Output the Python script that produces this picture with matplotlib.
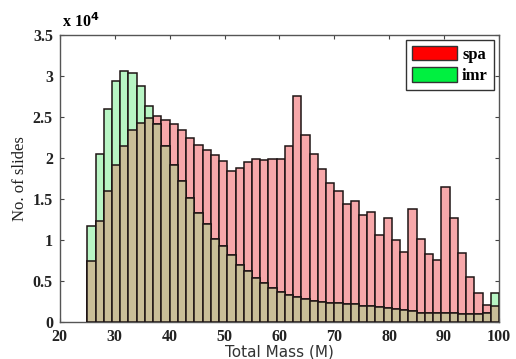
import numpy as np
import matplotlib
matplotlib.use('Agg')
import matplotlib.pyplot as plt
from matplotlib.patches import Patch

# histogram data: 50 bins from 25 to 100
bin_lo, bin_hi, n_bins = 25, 100, 50
spa = [7430, 12260, 15960, 19080, 21480, 23350, 24240, 24810, 25050, 24600,
       24080, 23350, 22370, 21560, 20950, 20340, 19570, 18430, 18720, 19450,
       19810, 19770, 19810, 19890, 21480, 27530, 22820, 20460, 18680, 16970,
       15960, 14410, 14740, 13070, 13360, 10600, 12630, 10030, 8570, 13720,
       10150, 8320, 7510, 16440, 12710, 8440, 5520, 3490, 2030, 1950]
imr = [11690, 20420, 25980, 29320, 30610, 30330, 28740, 26270, 24080, 21400,
       19080, 17130, 15100, 13240, 11940, 10150, 9260, 8160, 6940, 6210,
       5400, 4750, 4140, 3610, 3250, 3045, 2760, 2520, 2400, 2360,
       2360, 2230, 2230, 1990, 1910, 1790, 1750, 1540, 1500, 1340,
       1140, 1140, 1060, 1060, 1060, 980, 980, 980, 1060, 3490]
xticks = [20, 30, 40, 50, 60, 70, 80, 90, 100]
yticks = [0, 5000, 10000, 15000, 20000, 25000, 30000, 35000]
ytick_labels = ['0', '0.5', '1', '1.5', '2', '2.5', '3', '3.5']

PINK = '#F7A8AA'
LGREEN = '#B8F5C4'
TAN = '#C9BE98'
EDGE = '#1e1414'

edges = np.linspace(bin_lo, bin_hi, n_bins + 1)
left = edges[:-1]
width = edges[1] - edges[0]
spa = np.array(spa)
imr = np.array(imr)
both = np.minimum(spa, imr)

fig = plt.figure(figsize=(5.16, 3.59), dpi=100)
ax = fig.add_axes([0.116, 0.103, 0.851, 0.800])

# full-height outlines of each series, then the shared part on top
ax.bar(left, spa, width=width, align='edge', color=PINK, edgecolor=EDGE,
       linewidth=1.1, zorder=2)
ax.bar(left, imr, width=width, align='edge', color=LGREEN, edgecolor=EDGE,
       linewidth=1.1, zorder=3)
ax.bar(left, both, width=width, align='edge', color=TAN, edgecolor=EDGE,
       linewidth=1.1, zorder=4)

ax.set_xlim(20, 100)
ax.set_ylim(0, 35000)
ax.set_xticks(xticks)
ax.set_yticks(yticks)
ax.set_yticklabels(ytick_labels)
ax.tick_params(direction='in', top=True, right=True, length=3, width=0.8,
               colors='#444444', labelcolor='#222222')
ax.tick_params(axis='x', pad=5)
ax.tick_params(axis='y', pad=5)
for lab in ax.get_xticklabels() + ax.get_yticklabels():
    lab.set_fontfamily('Liberation Serif')
    lab.set_fontweight('bold')
    lab.set_fontsize(11.5)
for sp in ax.spines.values():
    sp.set_color('#555555')
    sp.set_linewidth(1.0)

ax.set_xlabel('Total Mass (M)', fontsize=11, family='DejaVu Sans',
              color='#333333', labelpad=0)
ax.set_ylabel('No. of slides', fontsize=12, family='Liberation Serif',
              color='#222222', labelpad=3)

fig.text(62 / 516, 1 - 22 / 359, r'x 10$^{\mathbf{4}}$', fontsize=11.5,
         family='Liberation Serif', fontweight='bold', va='center', ha='left')

handles = [Patch(facecolor='#FF0000', edgecolor='#333333', label='spa'),
           Patch(facecolor='#00F040', edgecolor='#333333', label='imr')]
leg = ax.legend(handles=handles, loc='upper right', bbox_to_anchor=(0.988, 0.983),
                prop={'family': 'Liberation Serif', 'weight': 'bold', 'size': 12},
                handlelength=2.7, handleheight=1.0, labelspacing=0.25,
                handletextpad=0.3, borderpad=0.35, borderaxespad=0,
                fancybox=False, framealpha=1)
leg.get_frame().set_edgecolor('#333333')
leg.get_frame().set_linewidth(1.0)
leg.set_zorder(10)

fig.savefig('out.png', dpi=100)
